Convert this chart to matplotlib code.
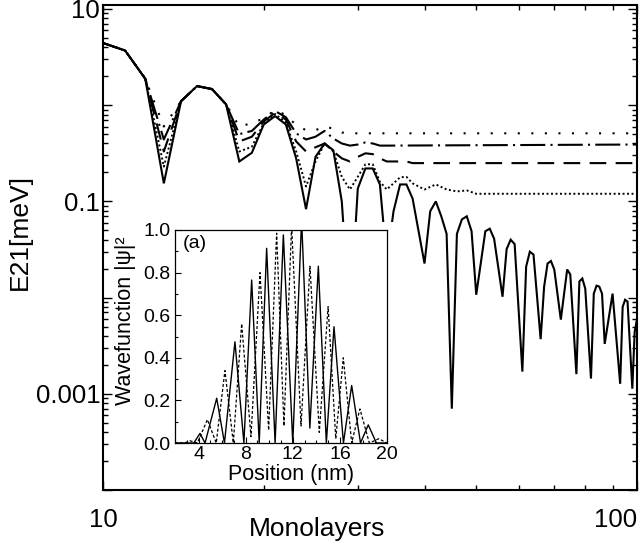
import matplotlib
matplotlib.use("Agg")
import matplotlib.pyplot as plt
from matplotlib.patches import Rectangle
from matplotlib.ticker import FixedLocator, FixedFormatter, NullFormatter, MultipleLocator, FormatStrFormatter

plt.rcParams["font.family"] = ["Liberation Sans", "DejaVu Sans"]

# --- main panel: E21 vs number of monolayers ---
n_solid = [10, 11, 12, 13, 14, 15, 16, 17, 18, 19, 20, 21, 22, 23, 24, 25, 26, 27, 28, 29,
           30, 31, 32, 33, 34, 35, 36, 37, 38, 40, 41, 42, 43, 44, 45, 46, 47, 48, 49, 50,
           52, 53, 54, 56, 57, 58, 59, 61, 62, 63, 64, 66, 67, 68, 69, 70, 72, 74, 75, 77,
           78, 79, 80, 82, 83, 84, 85, 86, 87, 90, 93, 94, 95, 96, 98, 99, 100]
e_solid = [4.43, 3.7, 1.88, 0.154, 1.10, 1.58, 1.47, 1.02, 0.26, 0.32, 0.63, 0.77, 0.63, 0.28,
           0.083, 0.29, 0.40, 0.34, 0.10, 0.0056, 0.136, 0.22, 0.22, 0.15, 0.024, 0.079, 0.15,
           0.15, 0.107, 0.0226, 0.079, 0.10, 0.07, 0.046, 0.0007, 0.046, 0.065, 0.070, 0.049,
           0.0107, 0.049, 0.052, 0.041, 0.0102, 0.032, 0.040, 0.036, 0.0017, 0.021, 0.030,
           0.028, 0.0037, 0.013, 0.0226, 0.024, 0.0196, 0.0059, 0.0196, 0.0174, 0.0016,
           0.0147, 0.0158, 0.0124, 0.00144, 0.011, 0.0133, 0.013, 0.011, 0.0033, 0.011,
           0.00127, 0.008, 0.0095, 0.0091, 0.00113, 0.0044, 0.006]

n_dot = [10, 11, 12, 13, 14, 15, 16, 17, 18, 19, 20, 21, 22, 23, 24, 25, 26, 27, 28, 29, 30,
         31, 32, 33, 34, 35, 36, 37, 38, 40, 42, 44, 46, 48, 50, 100]
e_dot = [4.43, 3.7, 1.88, 0.23, 1.10, 1.58, 1.47, 1.02, 0.33, 0.37, 0.65, 0.81, 0.66, 0.33,
         0.143, 0.26, 0.40, 0.33, 0.18, 0.133, 0.18, 0.243, 0.243, 0.16, 0.133, 0.154, 0.178,
         0.18, 0.154, 0.133, 0.15, 0.133, 0.127, 0.13, 0.12, 0.12]

n_dash = [10, 11, 12, 13, 14, 15, 16, 17, 18, 19, 20, 21, 22, 23, 24, 25, 26, 27, 28, 29, 30,
          31, 32, 33, 34, 35, 37, 38, 100]
e_dash = [4.43, 3.7, 1.88, 0.33, 1.10, 1.58, 1.47, 1.02, 0.42, 0.47, 0.68, 0.83, 0.71, 0.42,
          0.33, 0.365, 0.40, 0.33, 0.28, 0.26, 0.29, 0.316, 0.31, 0.28, 0.26, 0.26, 0.26, 0.25,
          0.25]

n_dashdot = [10, 11, 12, 13, 14, 15, 16, 17, 18, 19, 20, 21, 22, 23, 24, 25, 26, 27, 28, 29,
             30, 31, 32, 33, 34, 100]
e_dashdot = [4.43, 3.7, 1.88, 0.44, 1.10, 1.58, 1.47, 1.02, 0.50, 0.54, 0.71, 0.87, 0.75, 0.51,
             0.44, 0.47, 0.54, 0.45, 0.40, 0.38, 0.39, 0.41, 0.40, 0.38, 0.38, 0.39]

n_sparse = [10, 11, 12, 13, 14, 15, 16, 17, 18, 19, 20, 21, 22, 23, 24, 25, 26, 27, 28, 29, 100]
e_sparse = [4.43, 3.7, 1.88, 0.60, 1.10, 1.58, 1.47, 1.02, 0.60, 0.65, 0.73, 0.89, 0.79, 0.62,
            0.55, 0.55, 0.60, 0.57, 0.52, 0.51, 0.51]

# --- inset (a): wavefunction vs position ---
pos_solid = [2, 3.6, 4.12, 4.55, 5.54, 6.2, 7.09, 7.85, 8.51, 9.15, 9.78, 10.5, 11.2, 12.0,
             12.75, 13.45, 14.17, 14.85, 15.5, 16.3, 17.0, 17.75, 18.41, 19.1, 20]
psi_solid = [0, 0, 0.045, 0, 0.21, 0, 0.475, 0, 0.765, 0, 0.914, 0, 0.977, 0, 1.05, 0.07,
             0.83, 0, 0.546, 0, 0.27, 0, 0.085, 0, 0]
pos_dot = [2, 2.8, 3.3, 3.9, 4.75, 5.5, 6.24, 6.95, 7.66, 8.45, 9.22, 9.95, 10.63, 11.25, 11.9,
           12.7, 13.46, 14.25, 15.0, 15.65, 16.29, 17.0, 17.7, 18.5, 19.3, 20]
psi_dot = [0, 0, 0.01, 0, 0.11, 0, 0.34, 0, 0.56, 0.03, 0.80, 0.06, 0.985, 0.08, 1.02, 0.08,
           0.83, 0.05, 0.64, 0.02, 0.40, 0, 0.16, 0, 0.02, 0]

W, H = 643, 546
fig = plt.figure(figsize=(W / 100, H / 100), dpi=100)
ax = fig.add_axes([103 / W, 1 - 490 / H, 534 / W, 485 / H])

lw = 1.5
ax.plot(n_solid, e_solid, color="black", lw=lw, solid_joinstyle="miter")
ax.plot(n_dot, e_dot, color="black", lw=1.4, ls=(0, (1, 1.3)))
ax.plot(n_dash, e_dash, color="black", lw=lw, ls=(0, (8, 4.5)))
ax.plot(n_dashdot, e_dashdot, color="black", lw=lw, ls=(0, (12, 2.5, 1, 2.5)))
ax.plot(n_sparse, e_sparse, color="black", lw=lw, ls=(0, (1, 5.5)))

ax.set_xscale("log")
ax.set_yscale("log")
ax.set_xlim(10, 100)
ax.set_ylim(1e-4, 11)

ax.xaxis.set_major_locator(FixedLocator([10, 100]))
ax.xaxis.set_major_formatter(FixedFormatter(["10", "100"]))
ax.xaxis.set_minor_locator(FixedLocator([20, 30, 40, 50, 60, 70, 80, 90]))
ax.xaxis.set_minor_formatter(NullFormatter())

dec = [1e-4, 1e-3, 1e-2, 1e-1, 1, 10]
ax.yaxis.set_major_locator(FixedLocator(dec))
ax.yaxis.set_major_formatter(FixedFormatter(["", "0.001", "", "0.1", "", "10"]))
ax.yaxis.set_minor_locator(FixedLocator([m * d for d in dec[:-1] for m in range(2, 10)]))
ax.yaxis.set_minor_formatter(NullFormatter())

ax.tick_params(which="both", direction="in", top=True, right=True, width=1.0)
ax.tick_params(which="major", length=6.5, labelsize=18.5)
ax.tick_params(which="minor", length=3.5)
ax.tick_params(axis="x", which="major", pad=13)
ax.tick_params(axis="y", which="major", pad=2)
for lab in ax.get_xticklabels():
    if lab.get_text() == "100":
        lab.set_ha("right")
for sp in ax.spines.values():
    sp.set_linewidth(1.5)

ax.set_xlabel("Monolayers", fontsize=19, va="top")
ax.xaxis.set_label_coords(0.40, -0.055)
ax.set_ylabel("E21[meV]", fontsize=19)
ax.yaxis.set_label_coords(-0.133, 0.532)

# white backing behind the inset (hides the curves underneath)
fig.patches.append(Rectangle((115 / W, 1 - 480 / H), 280 / W, 258 / H,
                             transform=fig.transFigure, facecolor="white",
                             edgecolor="none", zorder=1))

ins = fig.add_axes([175 / W, 1 - 443 / H, 212 / W, 213 / H], zorder=2)
ins.set_facecolor("white")
ins.plot(pos_solid, psi_solid, color="black", lw=1.0)
ins.plot(pos_dot, psi_dot, color="black", lw=0.9, ls=(0, (2.4, 1.6)))
ins.set_xlim(2, 20)
ins.set_ylim(0, 1)
ins.xaxis.set_major_locator(FixedLocator([4, 8, 12, 16, 20]))
ins.xaxis.set_minor_locator(MultipleLocator(1))
ins.yaxis.set_major_locator(MultipleLocator(0.2))
ins.yaxis.set_major_formatter(FormatStrFormatter("%.1f"))
ins.yaxis.set_minor_locator(MultipleLocator(0.1))
ins.tick_params(which="both", direction="in", width=0.8)
ins.tick_params(which="major", length=4, labelsize=14)
ins.tick_params(which="minor", length=2.5)
ins.tick_params(axis="x", which="major", pad=2.5)
ins.tick_params(axis="y", which="major", pad=3)
for sp in ins.spines.values():
    sp.set_linewidth(0.9)
ins.set_xlabel("Position (nm)", fontsize=15.5, va="top")
ins.xaxis.set_label_coords(0.547, -0.098)
ins.set_ylabel("Wavefunction |ψ|²", fontsize=15.5)
ins.yaxis.set_label_coords(-0.184, 0.573)
ins.text(0.038, 0.975, "(a)", transform=ins.transAxes, fontsize=14, va="top", ha="left")

fig.savefig("out.png", dpi=100)
